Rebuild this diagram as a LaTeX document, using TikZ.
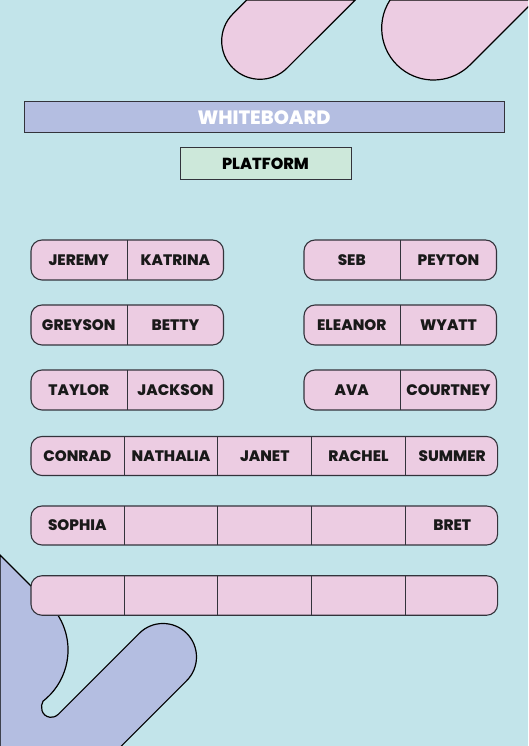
\documentclass[tikz,border=0pt]{standalone}
\usepackage{fontspec}
\setmainfont{Poppins}[BoldFont={* ExtraBold}]
\usetikzlibrary{positioning}
\definecolor{bgBlue}{HTML}{C2E4EA}
\definecolor{deskPink}{HTML}{ECCCE2}
\definecolor{blobPurple}{HTML}{B4BEE1}
\definecolor{platGreen}{HTML}{CDE8DA}
\definecolor{lineDark}{HTML}{33333B}
\begin{document}
\begin{tikzpicture}[x=1pt,y=1pt,
        seat/.style={minimum width=96.25pt, minimum height=40pt, inner sep=0pt, font=\bfseries\fontsize{15.2}{15.2}\selectfont, text=black!90},
        seatLong/.style={seat, minimum width=93.33pt, minimum height=39pt},
        desk/.style={draw=lineDark, line width=1.1pt, fill=deskPink, rounded corners=11pt, minimum height=40pt, inner sep=0pt},
        divider/.style={draw=lineDark, line width=1.1pt},
        blob/.style={draw=black, line width=1.2pt}]
    \useasboundingbox (0,0) rectangle (528,746);
    \fill[bgBlue] (0,0) rectangle (528,746);
    
    % corner shapes
    \begin{scope}
        \clip (0,0) rectangle (528,746);
        \draw[blob, fill=deskPink] (246.8,746) -- (232.9,732.1) arc[start angle=135, end angle=315, radius=38.3] -- (355.2,746) -- cycle;
        \draw[blob, fill=deskPink] (390.05,746) arc[start angle=147, end angle=315, radius=51.8] -- (534.9,746) -- cycle;
        \draw[blob, fill=blobPurple] (0,191) -- (49,142) arc[start angle=45, end angle=-52, radius=65]
            .. controls (40,40) and (41,30) .. (50,28.7) .. controls (53,28.7) and (55,29) .. (58,31.4)
            -- (139.3,112.7) arc[start angle=135, end angle=-45, radius=33.5] -- (121.4,0) -- (115.4,-6) -- (0,-6) -- cycle;
    \end{scope}
    
    \node[draw=lineDark, line width=1pt, fill=blobPurple, minimum width=480pt, minimum height=31pt, inner sep=0pt, text=white, font=\bfseries\fontsize{19.3}{19.3}\selectfont] (board) at (264,628.5) {WHITEBOARD};
    \node[draw=lineDark, line width=1pt, fill=platGreen, minimum width=171pt, minimum height=32pt, inner sep=0pt, font=\bfseries\fontsize{16}{16}\selectfont] (platform) at (265.5,582) {PLATFORM};
    
    % pairs, left
    \node[desk, minimum width=192.5pt] (deskA) at (127.25,486) {};
    \node[seat, anchor=west] (jeremy) at (deskA.west) {JEREMY};
    \node[seat, right=0pt of jeremy] (katrina) {KATRINA};
    \draw[divider] (jeremy.north east) -- (jeremy.south east);
    
    \node[desk, minimum width=192.5pt] (deskB) at (127.25,421) {};
    \node[seat, anchor=west] (greyson) at (deskB.west) {GREYSON};
    \node[seat, right=0pt of greyson] (betty) {BETTY};
    \draw[divider] (greyson.north east) -- (greyson.south east);
    
    \node[desk, minimum width=192.5pt] (deskC) at (127.25,356) {};
    \node[seat, anchor=west] (taylor) at (deskC.west) {TAYLOR};
    \node[seat, right=0pt of taylor] (jackson) {JACKSON};
    \draw[divider] (taylor.north east) -- (taylor.south east);
    
    % pairs, right
    \node[desk, minimum width=192.5pt] (deskD) at (400.25,486) {};
    \node[seat, anchor=west] (seb) at (deskD.west) {SEB};
    \node[seat, right=0pt of seb] (peyton) {PEYTON};
    \draw[divider] (seb.north east) -- (seb.south east);
    
    \node[desk, minimum width=192.5pt] (deskE) at (400.25,421) {};
    \node[seat, anchor=west] (eleanor) at (deskE.west) {ELEANOR};
    \node[seat, right=0pt of eleanor] (wyatt) {WYATT};
    \draw[divider] (eleanor.north east) -- (eleanor.south east);
    
    \node[desk, minimum width=192.5pt] (deskF) at (400.25,356) {};
    \node[seat, anchor=west] (ava) at (deskF.west) {AVA};
    \node[seat, right=0pt of ava] (courtney) {COURTNEY};
    \draw[divider] (ava.north east) -- (ava.south east);
    
    % long rows
    \node[desk, minimum width=466.65pt, minimum height=39pt] (deskG) at (264.3,290) {};
    \node[seatLong, anchor=west] (conrad) at (deskG.west) {CONRAD};
    \node[seatLong, right=0pt of conrad] (nathalia) {NATHALIA};
    \node[seatLong, right=0pt of nathalia] (janet) {JANET};
    \node[seatLong, right=0pt of janet] (rachel) {RACHEL};
    \node[seatLong, right=0pt of rachel] (summer) {SUMMER};
    \draw[divider] (conrad.north east) -- (conrad.south east);
    \draw[divider] (nathalia.north east) -- (nathalia.south east);
    \draw[divider] (janet.north east) -- (janet.south east);
    \draw[divider] (rachel.north east) -- (rachel.south east);
    
    \node[desk, minimum width=466.65pt, minimum height=39pt] (deskH) at (264.3,220.5) {};
    \node[seatLong, anchor=west] (sophia) at (deskH.west) {SOPHIA};
    \node[seatLong, right=0pt of sophia] (emptyH1) {};
    \node[seatLong, right=0pt of emptyH1] (emptyH2) {};
    \node[seatLong, right=0pt of emptyH2] (emptyH3) {};
    \node[seatLong, right=0pt of emptyH3] (bret) {BRET};
    \draw[divider] (sophia.north east) -- (sophia.south east);
    \draw[divider] (emptyH1.north east) -- (emptyH1.south east);
    \draw[divider] (emptyH2.north east) -- (emptyH2.south east);
    \draw[divider] (emptyH3.north east) -- (emptyH3.south east);
    
    \node[desk, minimum width=466.65pt, minimum height=39.5pt] (deskI) at (264.3,150.5) {};
    \node[seatLong, anchor=west, minimum height=39.5pt] (emptyI1) at (deskI.west) {};
    \node[seatLong, right=0pt of emptyI1, minimum height=39.5pt] (emptyI2) {};
    \node[seatLong, right=0pt of emptyI2, minimum height=39.5pt] (emptyI3) {};
    \node[seatLong, right=0pt of emptyI3, minimum height=39.5pt] (emptyI4) {};
    \node[seatLong, right=0pt of emptyI4, minimum height=39.5pt] (emptyI5) {};
    \draw[divider] (emptyI1.north east) -- (emptyI1.south east);
    \draw[divider] (emptyI2.north east) -- (emptyI2.south east);
    \draw[divider] (emptyI3.north east) -- (emptyI3.south east);
    \draw[divider] (emptyI4.north east) -- (emptyI4.south east);
\end{tikzpicture}
\end{document}
